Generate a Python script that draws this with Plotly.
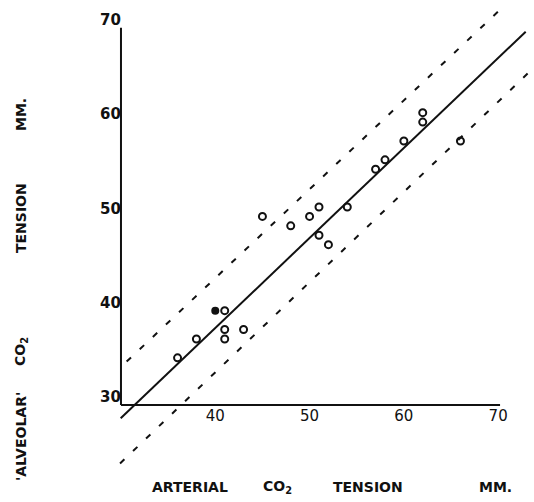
import plotly.graph_objects as go

# ---- data ----
arterial_open = [36, 38, 41, 41, 41, 43, 45, 48, 50, 51, 51, 52, 54, 57, 58, 60, 62, 62, 66]
alveolar_open = [35, 37, 40, 38, 37, 38, 50, 49, 50, 51, 48, 47, 51, 55, 56, 58, 60, 61, 58]
arterial_filled = [40]
alveolar_filled = [40]

# regression line and the two limit lines (end points)
reg_x = [29.97, 72.92]
reg_y = [28.59, 69.59]
upper_x = [30.6, 70.5]
upper_y = [34.6, 72.2]
lower_x = [29.9, 73.7]
lower_y = [23.8, 65.7]

x_ticks = [40, 50, 60, 70]
y_ticks = [30, 40, 50, 60, 70]
x_axis_span = [30, 70.2]
y_axis_span = [30, 70]

x_title_words = ["ARTERIAL", "CO<sub>2</sub>", "TENSION", "MM."]
y_title_words = ["'ALVEOLAR'", "CO<sub>2</sub>", "TENSION", "MM."]

# ---- layout constants ----
W, H = 534, 502
X_RANGE = [17.17, 73.80]
Y_RANGE = [19.71, 72.95]
INK = "#111111"

fig = go.Figure()

fig.add_trace(go.Scatter(x=reg_x, y=reg_y, mode="lines",
                         line=dict(color=INK, width=2), hoverinfo="skip"))
for lx, ly in ((upper_x, upper_y), (lower_x, lower_y)):
    fig.add_trace(go.Scatter(x=lx, y=ly, mode="lines",
                             line=dict(color=INK, width=2, dash="6px,12px"),
                             hoverinfo="skip"))

fig.add_trace(go.Scatter(x=arterial_open, y=alveolar_open, mode="markers",
                         marker=dict(symbol="circle-open", size=7, color=INK,
                                     line=dict(width=2, color=INK))))
fig.add_trace(go.Scatter(x=arterial_filled, y=alveolar_filled, mode="markers",
                         marker=dict(symbol="circle", size=8, color=INK)))

# axis lines
fig.add_shape(type="line", x0=x_axis_span[0], x1=x_axis_span[1],
              y0=y_axis_span[0], y1=y_axis_span[0],
              line=dict(color=INK, width=2), layer="above")
fig.add_shape(type="line", x0=x_axis_span[0], x1=x_axis_span[0],
              y0=y_axis_span[0], y1=y_axis_span[1],
              line=dict(color=INK, width=2), layer="above")

xpos = (y_axis_span[0] - Y_RANGE[0]) / (Y_RANGE[1] - Y_RANGE[0])
ypos = (x_axis_span[0] - X_RANGE[0]) / (X_RANGE[1] - X_RANGE[0])

tick_font = dict(family="DejaVu Sans", size=15, color=INK)

fig.update_layout(
    width=W, height=H, autosize=False,
    margin=dict(l=0, r=0, t=0, b=0),
    paper_bgcolor="white", plot_bgcolor="white",
    showlegend=False,
    xaxis=dict(range=X_RANGE, anchor="free", position=xpos,
               tickvals=x_ticks, ticktext=[str(v) for v in x_ticks],
               showgrid=False, zeroline=False, showline=False, ticks="",
               tickfont=tick_font, fixedrange=True),
    yaxis=dict(range=Y_RANGE, anchor="free", position=ypos,
               tickvals=y_ticks, ticktext=[str(v) for v in y_ticks],
               showgrid=False, zeroline=False, showline=False, ticks="",
               ticklabelshift=-8, ticklabelstandoff=0,
               tickfont=dict(family="DejaVu Sans", size=15, color=INK, weight="bold"),
               fixedrange=True),
)

title_font = dict(family="DejaVu Sans", size=14, color=INK, weight="bold")
x_word_px = [190, 277, 368, 495]
for word, px in zip(x_title_words, x_word_px):
    fig.add_annotation(text=word, xref="paper", yref="paper",
                       x=px / W, y=1 - 487 / H, showarrow=False,
                       font=title_font, xanchor="center", yanchor="middle")

y_word_py = [437, 352, 218, 115]
for word, py in zip(y_title_words, y_word_py):
    fig.add_annotation(text=word, xref="paper", yref="paper",
                       x=21 / W, y=1 - py / H, showarrow=False, textangle=-90,
                       font=title_font, xanchor="center", yanchor="middle")

fig.write_html("out.html",
               config={"displayModeBar": False, "staticPlot": True},
               post_script="document.body.style.margin='0px';")
